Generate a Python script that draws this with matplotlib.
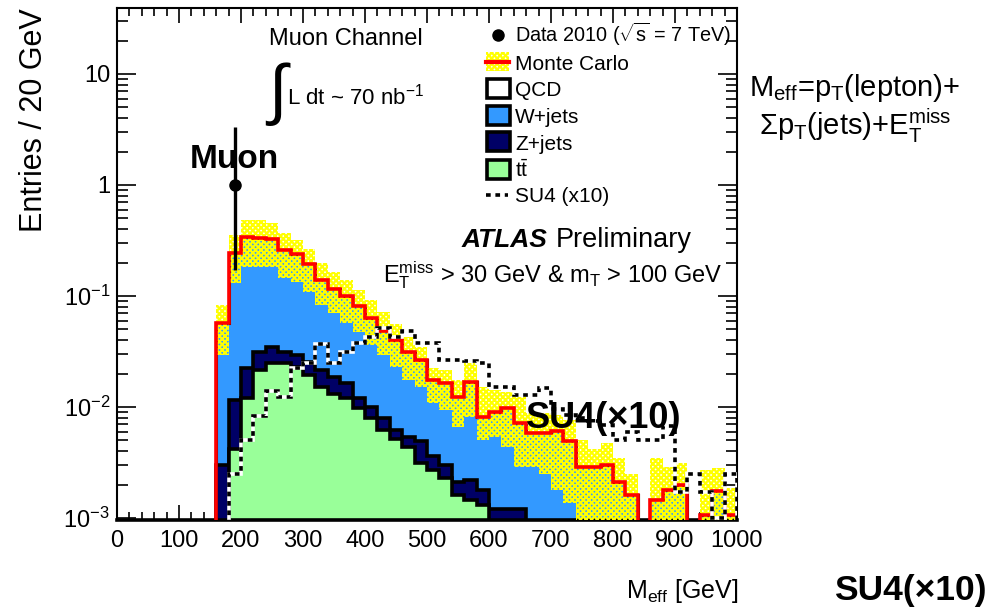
import numpy as np
import matplotlib
matplotlib.use("Agg")
import matplotlib.pyplot as plt
from matplotlib.patches import Rectangle
from matplotlib.lines import Line2D
from matplotlib.ticker import LogLocator, NullFormatter, FixedLocator

plt.rcParams["font.family"] = ["Liberation Sans", "DejaVu Sans"]
plt.rcParams["mathtext.fontset"] = "custom"
plt.rcParams["mathtext.rm"] = "Liberation Sans"
plt.rcParams["mathtext.it"] = "Liberation Sans:italic"
plt.rcParams["mathtext.bf"] = "Liberation Sans:bold"
plt.rcParams["mathtext.sf"] = "Liberation Sans"
plt.rcParams["hatch.linewidth"] = 1.6

# ---- histogram contents, 20 GeV bins from 160 to 1000 GeV ----
bin_edges = np.arange(160, 1001, 20)

ttbar = [0, 0.0042, 0.0120, 0.0216, 0.0247, 0.0247, 0.0231, 0.0194, 0.0152, 0.0130,
         0.0120, 0.0097, 0.0079, 0.0062, 0.0052, 0.0044, 0.0031, 0.0027, 0.0023, 0.0016,
         0.00145, 0.0013] + [0] * 20

zjets = [0.0030, 0.0074, 0.0103, 0.0099, 0.0102, 0.0068, 0.0063, 0.0062, 0.0064, 0.0058,
         0.0043, 0.0023, 0.0022, 0.0017, 0.0010, 0.0010, 0.0018, 0.0009, 0.0007, 0.0005,
         0.00075, 0.0005, 0.0012, 0.0012, 0.0012] + [0] * 17

wjets = [0.0545, 0.233, 0.316, 0.303, 0.289, 0.228, 0.208, 0.168, 0.117, 0.098,
         0.084, 0.069, 0.053, 0.040, 0.034, 0.026, 0.0216, 0.0139, 0.0133, 0.0103,
         0.0147, 0.0064, 0.0079, 0.0085, 0.0060, 0.0058, 0.0058, 0.0061, 0.0049, 0.0029,
         0.0029, 0.0030, 0.0021, 0.0016, 0, 0.00146, 0.0018, 0.0020, 0, 0.00106,
         0.00174, 0.00106]

qcd = [0] * 42

# Monte Carlo uncertainty band (upper / lower edge)
mc_hi = [0.083, 0.355, 0.484, 0.484, 0.452, 0.367, 0.320, 0.264, 0.197, 0.166,
         0.139, 0.113, 0.092, 0.0722, 0.0560, 0.0430, 0.0349, 0.0223, 0.0216, 0.0175,
         0.0248, 0.0152, 0.0142, 0.0137, 0.0124, 0.0088, 0.0088, 0.0085, 0.0076, 0.0050,
         0.0042, 0.0047, 0.0035, 0.0025, 0, 0.0035, 0.0029, 0.0031, 0, 0.0027,
         0.0028, 0.00185]
mc_lo = [0.0294, 0.131, 0.184, 0.184, 0.184, 0.144, 0.135, 0.109, 0.083, 0.0703,
         0.0568, 0.0477, 0.0362, 0.0294, 0.0231, 0.0175, 0.0152, 0.0109, 0.0094, 0.00665,
         0.0082, 0.0050, 0.0054, 0.0044, 0.0029, 0.0029, 0.0025, 0.0018, 0.00137] + [0] * 13

# SUSY benchmark SU4, scaled by 10
su4_x10 = [0, 0.0025, 0.0050, 0.0083, 0.0140, 0.0124, 0.0223, 0.0251, 0.0367, 0.0247,
           0.0315, 0.0375, 0.043, 0.052, 0.043, 0.0487, 0.038, 0.038, 0.0265, 0.0265,
           0.0260, 0.0250, 0.0150, 0.0150, 0.0128, 0.0128, 0.0147, 0.0095, 0.0085, 0.0080,
           0.0075, 0.0069, 0.0050, 0.0060, 0.0050, 0.0050, 0.0067, 0.0017, 0.0025, 0.0017,
           0.0010, 0.0025]

# data 2010
data_x = [190]
data_y = [1.0]
data_err_lo = [0.83]
data_err_hi = [2.30]

x_ticks = [0, 100, 200, 300, 400, 500, 600, 700, 800, 900, 1000]
y_ticks = [1e-3, 1e-2, 1e-1, 1, 10]
y_ticklabels = [r"10$^{\mathregular{-3}}$", r"10$^{\mathregular{-2}}$",
                r"10$^{\mathregular{-1}}$", "1", "10"]

# ---- colours ----
C_W = "#3399ff"
C_Z = "#000066"
C_TT = "#99ff99"
C_BAND = "#ffff00"

FLOOR = 1e-7


def positive(v):
    v = np.asarray(v, dtype=float)
    return np.where(v > 0, v, FLOOR)


W_PX, H_PX = 994, 608


def fx(px):
    return px / W_PX


def fy(py):
    return 1 - py / H_PX


fig = plt.figure(figsize=(W_PX / 100, H_PX / 100), dpi=100)
ax = fig.add_axes([fx(117), fy(520), (737 - 117) / W_PX, (520 - 8) / H_PX])
ax.set_yscale("log")
ax.set_xlim(0, 1000)
ax.set_ylim(9.6e-4, 39.3)

tt = np.asarray(ttbar, float)
lvl_z = tt + np.asarray(zjets, float)
lvl_w = lvl_z + np.asarray(wjets, float)
lvl_q = lvl_w + np.asarray(qcd, float)

# stacked backgrounds, drawn top level first
ax.stairs(positive(lvl_q), bin_edges, baseline=FLOOR, fill=True,
          facecolor="white", edgecolor="black", lw=2.2, zorder=2)
ax.stairs(positive(lvl_w), bin_edges, baseline=FLOOR, fill=True,
          facecolor=C_W, edgecolor="black", lw=2.2, zorder=2)
ax.stairs(positive(lvl_z), bin_edges, baseline=FLOOR, fill=True,
          facecolor=C_Z, edgecolor="black", lw=2.6, zorder=2)
ax.stairs(positive(tt), bin_edges, baseline=FLOOR, fill=True,
          facecolor=C_TT, edgecolor="black", lw=2.6, zorder=2)

# MC uncertainty band
ax.stairs(positive(mc_hi), bin_edges, baseline=positive(mc_lo), fill=True,
          facecolor="none", edgecolor=C_BAND, hatch="xxxxxx", lw=0, zorder=3)

# MC total
ax.stairs(positive(lvl_q), bin_edges, baseline=FLOOR, color="red", lw=2.6, zorder=4)

# SU4 x10
ax.stairs(positive(su4_x10), bin_edges, baseline=FLOOR, color="white", lw=2.6, zorder=5)
ax.stairs(positive(su4_x10), bin_edges, baseline=FLOOR, color="black", lw=2.6,
          linestyle=(0, (1.3, 1.3)), zorder=6)

# data
ax.errorbar(data_x, data_y, yerr=[data_err_lo, data_err_hi], fmt="o", color="black",
             ms=8, elinewidth=2.4, capsize=0, zorder=10)

# ---- axes styling ----
ax.xaxis.set_major_locator(FixedLocator(x_ticks))
ax.xaxis.set_minor_locator(FixedLocator(np.arange(0, 1001, 20)))
ax.set_yticks(y_ticks)
ax.set_yticklabels(y_ticklabels)
ax.yaxis.set_minor_locator(LogLocator(base=10, subs=np.arange(2, 10)))
ax.yaxis.set_minor_formatter(NullFormatter())
ax.tick_params(axis="x", which="major", direction="in", length=11, width=1.2,
               top=True, labelsize=17, pad=7)
ax.tick_params(axis="x", which="minor", direction="in", length=5.5, width=1.2, top=True)
ax.tick_params(axis="y", which="major", direction="in", length=14, width=1.2,
               right=True, labelsize=17, pad=5)
ax.tick_params(axis="y", which="minor", direction="in", length=8, width=1.2, right=True)
for s in ("left", "right", "top"):
    ax.spines[s].set_linewidth(1.5)
ax.spines["bottom"].set_linewidth(2.6)

fig.text(fx(19), fy(8), "Entries / 20 GeV", rotation=90, ha="left", va="top",
         fontsize=22)
fig.text(fx(738), fy(598), r"M$_{\mathregular{eff}}$ [GeV]", ha="right",
         va="baseline", fontsize=18)

# ---- annotations ----
fig.text(fx(346), fy(45), "Muon Channel", ha="center", va="baseline", fontsize=17)
fig.text(fx(265), fy(112), r"$\int$", ha="left", va="baseline", fontsize=48)
fig.text(fx(287), fy(105), r"L dt ~ 70 nb$^{\mathregular{-1}}$", ha="left",
         va="baseline", fontsize=16)
fig.text(fx(190), fy(168), "Muon", ha="left", va="baseline", fontsize=24,
         fontweight="bold")
fig.text(fx(462), fy(247), "ATLAS", ha="left", va="baseline", fontsize=19,
         fontweight="bold", fontstyle="italic")
fig.text(fx(556), fy(247), "Preliminary", ha="left", va="baseline", fontsize=19.5)
fig.text(fx(722), fy(282),
         r"E$_{\mathregular{T}}^{\mathregular{miss}}$ > 30 GeV & m$_{\mathregular{T}}$ > 100 GeV",
         ha="right", va="baseline", fontsize=17)
fig.text(fx(604), fy(428), "SU4(×10)", ha="center", va="baseline", fontsize=26,
         fontweight="bold")
fig.text(fx(910), fy(600), "SU4(×10)", ha="center", va="baseline", fontsize=25.5,
         fontweight="bold")
fig.text(fx(855), fy(96),
         r"M$_{\mathregular{eff}}$=p$_{\mathregular{T}}$(lepton)+",
         ha="center", va="baseline", fontsize=21)
fig.text(fx(855), fy(135),
         r"$\Sigma$p$_{\mathregular{T}}$(jets)+E$_{\mathregular{T}}^{\mathregular{miss}}$",
         ha="center", va="baseline", fontsize=21)

# ---- legend ----
tf = fig.transFigure
LEG_TX = fx(515)
fig.add_artist(Line2D([fx(498)], [fy(35)], marker="o", color="black", ms=8,
                      transform=tf))
fig.text(LEG_TX, fy(42), r"Data 2010 ($\sqrt{\mathregular{s}}$ = 7 TeV)",
         ha="left", va="baseline", fontsize=14.3)

fig.add_artist(Rectangle((fx(486), fy(71)), (509 - 486) / W_PX, 19 / H_PX,
                         facecolor="none", edgecolor=C_BAND, hatch="xxxxxx", lw=0,
                         transform=tf))
fig.add_artist(Line2D([fx(486), fx(509)], [fy(62), fy(62)], color="red", lw=3,
                      transform=tf))
fig.text(LEG_TX, fy(70), "Monte Carlo", ha="left", va="baseline", fontsize=15)

legend_boxes = [("QCD", "white", 88), ("W+jets", C_W, 115),
                ("Z+jets", C_Z, 141.5), (r"t$\bar{\mathregular{t}}$", C_TT, 169)]
for label, col, yc in legend_boxes:
    fig.add_artist(Rectangle((fx(486.5), fy(yc + 9.5)), 23 / W_PX, 19 / H_PX,
                             facecolor=col, edgecolor="black", lw=2.6,
                             transform=tf))
    fig.text(LEG_TX, fy(yc + 8), label, ha="left", va="baseline", fontsize=15)

fig.add_artist(Line2D([fx(486), fx(508)], [fy(195), fy(195)], color="black", lw=2.6,
                      linestyle=(0, (1.3, 1.3)), transform=tf))
fig.text(LEG_TX, fy(202), "SU4 (x10)", ha="left", va="baseline", fontsize=15)

fig.savefig("out.png", dpi=100)
